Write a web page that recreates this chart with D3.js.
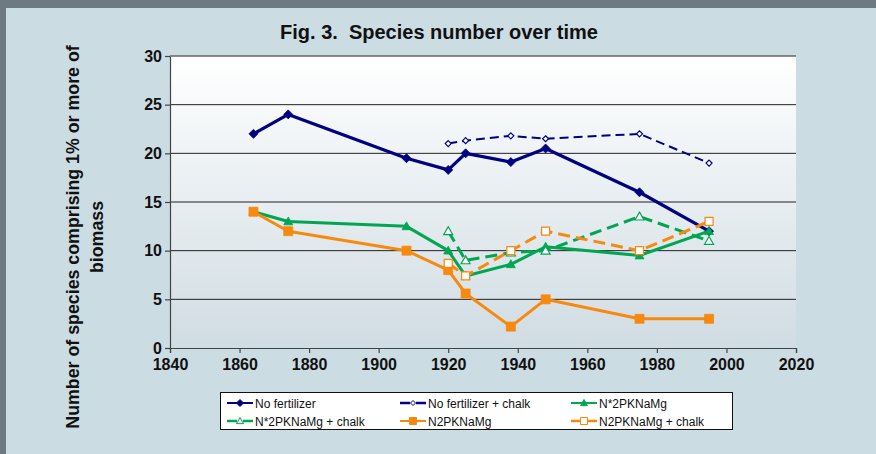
<!DOCTYPE html>
<html>
<head>
<meta charset="utf-8">
<script src="https://cdn.jsdelivr.net/npm/d3@7"></script>
<style>
  html, body { margin: 0; padding: 0; background: #cbdce3; overflow: hidden; }
  svg { display: block; }
</style>
</head>
<body>
<script>
// sampling years (the chalk plots start later)
const years = [1864, 1874, 1908, 1920, 1925, 1938, 1948, 1975, 1995];
const chalkYears = [1920, 1925, 1938, 1948, 1975, 1995];

// species counts
const noFertilizer = [22, 24, 19.5, 18.3, 20, 19.1, 20.5, 16, 12];
const noFertilizerChalk = [21, 21.3, 21.8, 21.5, 22, 19];
const nStar2PKNaMg = [14, 13, 12.5, 10, 7.4, 8.6, 10.4, 9.5, 12];
const nStar2PKNaMgChalk = [12, 9, 9.8, 10, 13.5, 11];
const n2PKNaMg = [14, 12, 10, 8, 5.6, 2.2, 5, 3, 3];
const n2PKNaMgChalk = [8.7, 7.4, 10, 12, 10, 13];

const xTicks = [1840, 1860, 1880, 1900, 1920, 1940, 1960, 1980, 2000, 2020];
const yTicks = [0, 5, 10, 15, 20, 25, 30];

const navy = "#000080", green = "#00a651", orange = "#f7890f";

const series = [
  {name: "No fertilizer", x: years, y: noFertilizer, color: navy, width: 3.2, dash: null, marker: "diamond", fill: true, r: 4.5},
  {name: "No fertilizer + chalk", x: chalkYears, y: noFertilizerChalk, color: navy, width: 2, dash: "9,5", marker: "diamond", fill: false, r: 3},
  {name: "N*2PKNaMg", x: years, y: nStar2PKNaMg, color: green, width: 3, dash: null, marker: "triangle", fill: true, r: 4.5},
  {name: "N*2PKNaMg + chalk", x: chalkYears, y: nStar2PKNaMgChalk, color: green, width: 3, dash: "12,6", marker: "triangle", fill: false, r: 4.5},
  {name: "N2PKNaMg", x: years, y: n2PKNaMg, color: orange, width: 3, dash: null, marker: "square", fill: true, r: 4.5},
  {name: "N2PKNaMg + chalk", x: chalkYears, y: n2PKNaMgChalk, color: orange, width: 3, dash: "12,6", marker: "square", fill: false, r: 4},
];

const width = 876, height = 454;
const margin = {top: 56, left: 170, right: 80, bottom: 106};

const x = d3.scaleLinear().domain([1840, 2020]).range([margin.left, width - margin.right]);
const y = d3.scaleLinear().domain([0, 30]).range([height - margin.bottom, margin.top]);

// marker outlines centred on 0,0
function markerPath(type, r) {
  if (type === "diamond") return `M0,${-r}L${r},0L0,${r}L${-r},0Z`;
  if (type === "triangle") return `M0,${-r}L${r},${r * 0.75}L${-r},${r * 0.75}Z`;
  return `M${-r},${-r}H${r}V${r}H${-r}Z`;
}

const svg = d3.select("body").append("svg")
    .attr("width", width)
    .attr("height", height)
    .attr("font-family", "Liberation Sans, Arial, sans-serif");

// outer frame: dark strip along top and left only
svg.append("rect").attr("width", width).attr("height", 8).attr("fill", "#6d7a81");
svg.append("rect").attr("width", 6).attr("height", height).attr("fill", "#6d7a81");

const defs = svg.append("defs");
const grad = defs.append("linearGradient").attr("id", "plotbg").attr("x1", 0).attr("y1", 0).attr("x2", 0).attr("y2", 1);
grad.append("stop").attr("offset", "0%").attr("stop-color", "#ffffff");
grad.append("stop").attr("offset", "100%").attr("stop-color", "#d0dce3");

svg.append("rect")
    .attr("x", x(1840)).attr("y", y(30))
    .attr("width", x(2020) - x(1840)).attr("height", y(0) - y(30))
    .attr("fill", "url(#plotbg)");

// horizontal gridlines
svg.append("g")
  .selectAll("line")
  .data(yTicks.filter(d => d > 0))
  .join("line")
    .attr("x1", x(1840)).attr("x2", x(2020))
    .attr("y1", d => y(d)).attr("y2", d => y(d))
    .attr("stroke", d => d === 30 ? "#666" : "#222")
    .attr("stroke-width", d => d === 30 ? 1.6 : 1);

// axes
svg.append("g")
    .attr("transform", `translate(0,${y(0)})`)
    .call(d3.axisBottom(x).tickValues(xTicks).tickFormat(d3.format("d")).tickSize(5).tickSizeOuter(5).tickPadding(6))
    .call(g => g.selectAll("path, line").attr("stroke", "#444").attr("stroke-width", 1.2))
    .call(g => g.selectAll("text").attr("font-size", 16).attr("font-weight", "bold").attr("fill", "#111").attr("font-family", "Liberation Sans, Arial, sans-serif"));

svg.append("g")
    .attr("transform", `translate(${x(1840)},0)`)
    .call(d3.axisLeft(y).tickValues(yTicks).tickSize(5).tickSizeOuter(0).tickPadding(3))
    .call(g => g.selectAll("path, line").attr("stroke", "#444").attr("stroke-width", 1.2))
    .call(g => g.selectAll("text").attr("font-size", 16).attr("font-weight", "bold").attr("fill", "#111").attr("font-family", "Liberation Sans, Arial, sans-serif"));

// lines and markers
const line = d3.line().x(d => x(d[0])).y(d => y(d[1]));

series.forEach(s => {
  const pts = s.x.map((yr, i) => [yr, s.y[i]]);
  svg.append("path")
      .attr("d", line(pts))
      .attr("fill", "none")
      .attr("stroke", s.color)
      .attr("stroke-width", s.width)
      .attr("stroke-linejoin", "round")
      .attr("stroke-dasharray", s.dash);
  svg.append("g")
    .selectAll("path")
    .data(pts)
    .join("path")
      .attr("transform", d => `translate(${x(d[0])},${y(d[1])})`)
      .attr("d", markerPath(s.marker, s.r))
      .attr("fill", s.fill ? s.color : "#fff")
      .attr("stroke", s.color)
      .attr("stroke-width", s.fill ? 0.8 : 1.2);
});

// title
svg.append("text")
    .attr("x", 439).attr("y", 39)
    .attr("text-anchor", "middle")
    .attr("font-size", 20).attr("font-weight", "bold")
    .attr("fill", "#111")
    .style("white-space", "pre")
    .text("Fig. 3.  Species number over time");

// y axis title, two lines
const yTitle = svg.append("text")
    .attr("transform", "translate(79,237) rotate(-90)")
    .attr("text-anchor", "middle")
    .attr("font-size", 17.8).attr("font-weight", "bold")
    .attr("fill", "#111");
yTitle.append("tspan").attr("x", 0).attr("y", 0).text("Number of species comprising 1% or more of");
yTitle.append("tspan").attr("x", 0).attr("y", 24).text("biomass");

// legend
const legend = svg.append("g");
legend.append("rect")
    .attr("x", 220.5).attr("y", 392.5).attr("width", 512).attr("height", 37)
    .attr("fill", "#fff").attr("stroke", "#111").attr("stroke-width", 1);

const colX = [254, 427, 598], rowY = [403, 421];

const item = legend.selectAll("g.item")
  .data(series)
  .join("g")
    .attr("class", "item")
    .attr("transform", (d, i) => `translate(${colX[i % 3]},${rowY[Math.floor(i / 3)]})`);

item.append("line")
    .attr("x1", -27).attr("x2", -1)
    .attr("stroke", d => d.color)
    .attr("stroke-width", d => d.dash ? 2.5 : 2)
    .attr("stroke-dasharray", d => d.dash ? "10,6" : null);

item.append("path")
    .attr("transform", "translate(-14,0)")
    .attr("d", d => markerPath(d.marker, d.marker === "diamond" ? (d.fill ? 3.5 : 2.5) : 3.5))
    .attr("fill", d => d.fill ? d.color : "#fff")
    .attr("stroke", d => d.color)
    .attr("stroke-width", 1);

item.append("text")
    .attr("x", 1).attr("y", 4.5)
    .attr("font-size", 12)
    .attr("fill", "#111")
    .text(d => d.name);
</script>
</body>
</html>
